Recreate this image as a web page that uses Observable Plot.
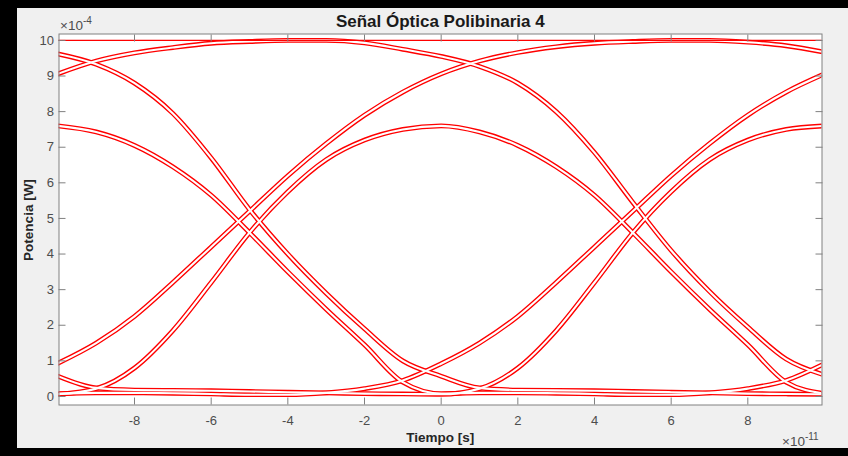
<!DOCTYPE html>
<html>
<head>
<meta charset="utf-8">
<script src="https://cdn.jsdelivr.net/npm/d3@7"></script>
<script src="https://cdn.jsdelivr.net/npm/@observablehq/plot@0.6"></script>
<style>
html,body{margin:0;padding:0;background:#000;}
#wrap{position:relative;width:848px;height:456px;background:#000;overflow:hidden;font-family:"Liberation Sans",Arial,Helvetica,sans-serif;}
#fig{position:absolute;left:17px;top:8px;width:831px;height:440px;background:#f0f0f0;}
#chart{position:absolute;left:0;top:0;}
.t{position:absolute;white-space:nowrap;line-height:1;}
#title{left:423.3px;top:4.6px;transform:translateX(-50%);font-size:17px;font-weight:bold;color:#1a1a1a;}
#xlabel{left:423.3px;top:423.3px;transform:translateX(-50%);font-size:13.5px;font-weight:bold;color:#262626;}
#ylabel{left:11.5px;top:211.8px;transform:translate(-50%,-50%) rotate(-90deg);font-size:13.5px;font-weight:bold;color:#262626;}
.exp{font-size:13.5px;color:#4d4d4d;}
.exp sup{font-size:10px;vertical-align:0;position:relative;top:-0.6em;}
#ey{left:43px;top:10.6px;}
#ex{left:765px;top:426.6px;}
</style>
</head>
<body>
<div id="wrap">
  <div id="fig">
    <div id="chart"></div>
    <div class="t" id="title">Señal Óptica Polibinaria 4</div>
    <div class="t" id="xlabel">Tiempo [s]</div>
    <div class="t" id="ylabel">Potencia [W]</div>
    <div class="t exp" id="ey">×10<sup>-4</sup></div>
    <div class="t exp" id="ex">×10<sup>-11</sup></div>
  </div>
</div>
<script>
// Time samples (×1e-11 s) and axis ticks
const tiempo = [-10,-9,-8,-7,-6,-5,-4,-3,-2,-1,0,1,2,3,4,5,6,7,8,9,10];
const ticksX = [-8,-6,-4,-2,0,2,4,6,8];
const ticksY = [0,1,2,3,4,5,6,7,8,9,10];

// Power traces (×1e-4 W), one value per time sample
const nivelAlto = [10,10,10,10,10,10,10,10,10,10,10,10,10,10,10,10,10,10,10,10,10];
const traza1 = [0.93,1.5,2.25,3.2,4.2,5.2,6.2,7.1,7.9,8.55,9.06, 9.42,9.66,9.82,9.92,9.97,10.0,10.0,9.95,9.85,9.67];
const traza2 = [9.06,9.42,9.65,9.8,9.92,9.97,10.0,10.0,9.93,9.75,9.55, 9.27,8.8,8.0,6.85,5.45,4.1,2.95,1.95,1.05,0.6];
const traza3 = [9.62,9.33,8.8,7.95,6.7,5.25,4.0,2.9,1.9,1.0,0.57, 0.24,0.18,0.17,0.16,0.14,0.12,0.1,0.08,0.07,0.06];
const traza4 = [0.57,0.24,0.18,0.17,0.16,0.14,0.12,0.1,0.08,0.07,0.06, 0.22,0.8,1.85,3.2,4.6,5.75,6.65,7.2,7.5,7.6];
const traza5 = [0.06,0.22,0.8,1.85,3.2,4.6,5.75,6.65,7.2,7.5,7.6, 7.43,7.05,6.45,5.65,4.6,3.5,2.45,1.45,0.4,0.08];
const traza6 = [7.6,7.43,7.05,6.45,5.65,4.6,3.5,2.45,1.45,0.4,0.08, 0.1,0.1,0.09,0.07,0.05,0.05,0.1,0.22,0.45,0.92];
const traza7 = [0.08,0.1,0.1,0.09,0.07,0.05,0.05,0.1,0.22,0.45,0.92, 1.5,2.25,3.2,4.2,5.2,6.2,7.1,7.9,8.55,9.06];

const series = [["t1",traza1],["t2",traza2],["t3",traza3],["t4",traza4],["t5",traza5],["t6",traza6],["t7",traza7]];
const datos = series.flatMap(([nombre, vals]) => vals.map((p, i) => ({serie: nombre, t: tiempo[i], p})));
const plano = nivelAlto.map((p, i) => ({t: tiempo[i], p}));

const ejeColor = "#808080";
const textoColor = "#4d4d4d";
const rojo = "#ff0000";
const fmt = d => String(d);

const chart = Plot.plot({
  width: 831,
  height: 440,
  marginLeft: 41.5,
  marginRight: 26.5,
  marginTop: 25.5,
  marginBottom: 43.5,
  style: {background: "transparent", fontFamily: "Liberation Sans, Arial, sans-serif", overflow: "visible"},
  x: {domain: [-9.97, 9.935]},
  y: {domain: [-0.24, 10.18]},
  marks: [
    Plot.frame({fill: "white", stroke: "none"}),
    Plot.line(datos, {x: "t", y: "p", z: "serie", stroke: rojo, strokeWidth: 4.8, curve: "monotone-x", clip: true}),
    Plot.line(datos, {x: "t", y: "p", z: "serie", stroke: "#ffffff", strokeWidth: 2.1, curve: "monotone-x", clip: true}),
    Plot.line(plano, {x: "t", y: "p", stroke: rojo, strokeWidth: 1.3, clip: true}),
    Plot.frame({stroke: ejeColor, strokeWidth: 1}),
    Plot.axisX(ticksX, {anchor: "bottom", tickSize: -7, fill: "none", label: null, stroke: ejeColor}),
    Plot.axisX(ticksX, {anchor: "top", tickSize: -7, fill: "none", label: null, stroke: ejeColor}),
    Plot.axisY(ticksY, {anchor: "left", tickSize: -7, fill: "none", label: null, stroke: ejeColor}),
    Plot.axisY(ticksY, {anchor: "right", tickSize: -7, fill: "none", label: null, stroke: ejeColor}),
    Plot.axisX(ticksX, {anchor: "bottom", tickSize: 0, tickPadding: 11, label: null, fontSize: 13, fill: textoColor, tickFormat: fmt}),
    Plot.axisY(ticksY, {anchor: "left", tickSize: 0, tickPadding: 5, label: null, fontSize: 13, fill: textoColor, tickFormat: fmt})
  ]
});
document.getElementById("chart").appendChild(chart);
</script>
</body>
</html>
